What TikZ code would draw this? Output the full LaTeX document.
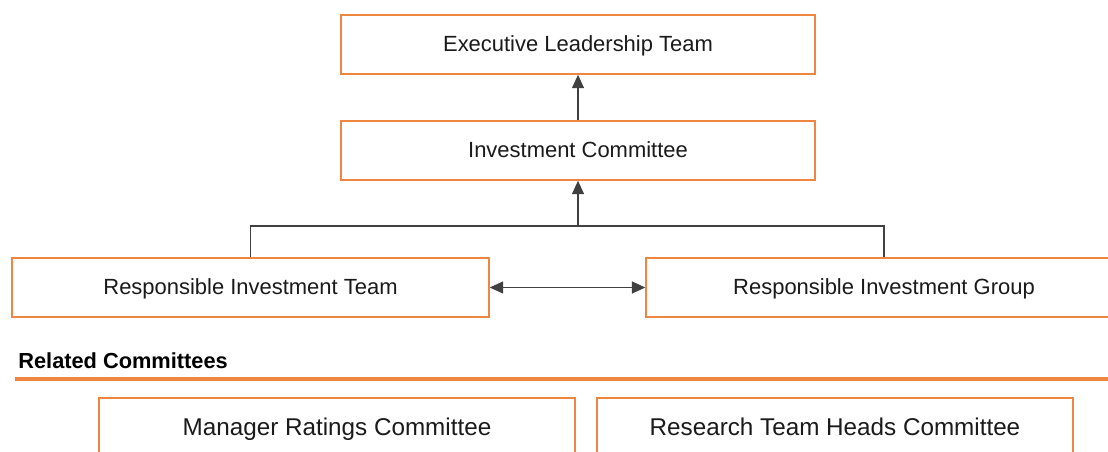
\documentclass[tikz,border=0pt]{standalone}
\usepackage{fontspec}
\setmainfont{Liberation Sans}
\usetikzlibrary{arrows.meta}
\definecolor{boxorange}{HTML}{EE8540}
\definecolor{linegray}{HTML}{404040}
\definecolor{txt}{HTML}{1A1A1A}
\tikzset{
  orgbox/.style={draw=boxorange, line width=0.85pt, fill=white, inner sep=0pt,
    minimum width=#1, minimum height=1.18cm, text=txt,
    text height=1.7ex, text depth=0.2ex,
    font=\fontsize{12.5}{14}\selectfont},
  relbox/.style={draw=boxorange, line width=0.85pt, fill=white, inner sep=0pt,
    minimum width=9.52cm, minimum height=1.2cm, text=txt,
    text height=1.8ex, text depth=0.17ex,
    font=\fontsize{13.8}{16}\selectfont},
  conn/.style={draw=linegray, line width=0.85pt},
  tip/.tip={Triangle[length=0.27cm, width=0.24cm]},
  arr/.style={conn, -tip},
  darr/.style={conn, tip-tip}
}
\begin{document}
\begin{tikzpicture}[x=0.02cm, y=-0.02cm]
\useasboundingbox (0,0) rectangle (1108,452);
\clip (0,0) rectangle (1108,452);
\node[orgbox=9.48cm] (elt) at (578,44.5) {Executive Leadership Team};
\node[orgbox=9.48cm] (ic) at (578,150.5) {Investment Committee};
\node[orgbox=9.54cm] (rit) at (250.5,287.5) {Responsible Investment Team};
\node[orgbox=9.52cm] (rig) at (884,287.5) {Responsible Investment Group};
\coordinate (j) at (578,226);
\draw[arr] (ic.north) -- (elt.south);
\draw[conn] (rit.north) |- (j) -| (rig.north);
\draw[arr] (j) -- (ic.south);
\draw[darr] (rit.east) -- (rig.west);
\node[anchor=west, inner sep=0pt, text=black, font=\bfseries\fontsize{12.4}{14}\selectfont] (rc) at (18,361) {Related Committees};
\coordinate (lineL) at (15,379);
\coordinate (lineR) at (1108,379);
\draw[draw=boxorange, line width=2pt] (lineL) -- (lineR);
\node[relbox] (mrc) at (337,428) {Manager Ratings Committee};
\node[relbox] (rthc) at (835,428) {Research Team Heads Committee};
\end{tikzpicture}
\end{document}
